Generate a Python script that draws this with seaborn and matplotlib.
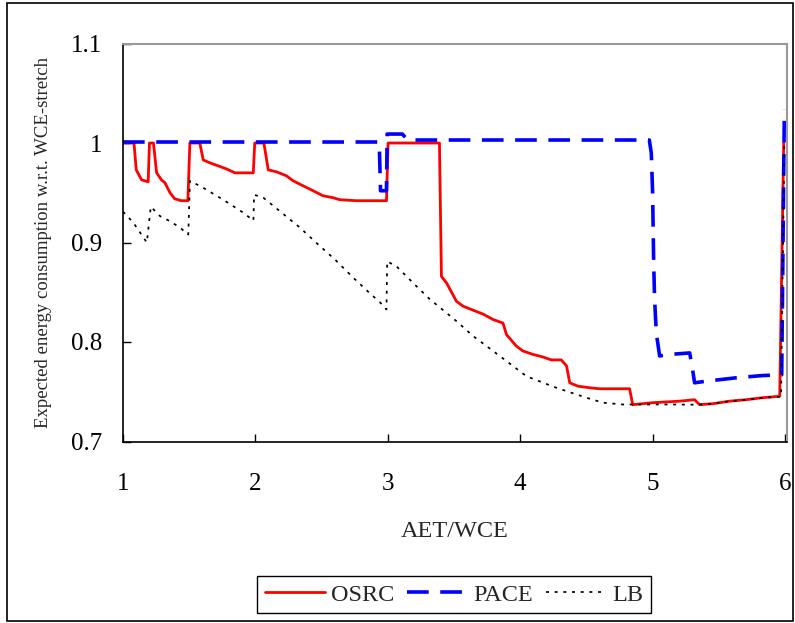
import matplotlib
matplotlib.use("Agg")
import matplotlib.pyplot as plt
import matplotlib.patches as mpatches
import seaborn as sns

# values
osrc_x = [1.0, 1.083, 1.10, 1.14, 1.19, 1.20, 1.23, 1.254, 1.29, 1.317, 1.355, 1.39,
          1.44, 1.49, 1.505, 1.58, 1.606, 1.657, 1.72, 1.78, 1.845, 1.984, 1.995,
          2.064, 2.097, 2.16, 2.235, 2.285, 2.36, 2.436, 2.51, 2.587, 2.638, 2.763,
          2.99, 3.002, 3.39, 3.405, 3.443, 3.518, 3.568, 3.644, 3.72, 3.795, 3.87,
          3.896, 3.97, 4.02, 4.097, 4.17, 4.235, 4.31, 4.35, 4.374, 4.436, 4.525,
          4.6, 4.826, 4.85, 5.0, 5.2, 5.317, 5.355, 5.455, 5.58, 5.706, 5.83, 5.96,
          5.99]
osrc_y = [1.0, 1.0, 0.973, 0.963, 0.961, 1.0, 1.0, 0.970, 0.963, 0.960, 0.950, 0.944,
          0.942, 0.942, 1.0, 1.0, 0.983, 0.980, 0.977, 0.974, 0.970, 0.970, 1.0,
          1.0, 0.973, 0.971, 0.967, 0.962, 0.957, 0.952, 0.947, 0.945, 0.943, 0.942,
          0.942, 1.0, 1.0, 0.866, 0.8595, 0.841, 0.836, 0.832, 0.828, 0.8226, 0.819,
          0.8075, 0.796, 0.791, 0.7875, 0.785, 0.782, 0.782, 0.776, 0.759, 0.7556, 0.754,
          0.753, 0.753, 0.737, 0.739, 0.7405, 0.742, 0.737, 0.738, 0.7405, 0.742, 0.744, 0.7455,
          1.0]

pace_x = [1.0, 2.935, 2.945, 2.99, 2.995, 3.11, 3.15, 4.975, 4.99, 5.0, 5.008, 5.015,
          5.028, 5.053, 5.128, 5.28, 5.30, 5.317, 5.405, 5.63, 5.83, 5.975, 5.995]
pace_y = [1.001, 1.001, 0.952, 0.952, 1.009, 1.009, 1.003, 1.003, 0.99, 0.95, 0.88, 0.843,
          0.809, 0.786, 0.7875, 0.789, 0.774, 0.759, 0.7606, 0.764, 0.7663, 0.767, 1.034]

lb_x = [1.0, 1.078, 1.18, 1.21, 1.28, 1.355, 1.43, 1.493, 1.506, 1.606, 1.757, 1.908,
        1.985, 1.99, 2.06, 2.198, 2.336, 2.474, 2.60, 2.74, 2.864, 2.94, 2.99, 2.995,
        3.066, 3.19, 3.317, 3.443, 3.518, 3.644, 3.845, 4.047, 4.273, 4.50, 4.625,
        4.776, 5.128, 5.33, 5.455, 5.58, 5.706, 5.83, 5.97, 5.995]
lb_y = [0.931, 0.92, 0.90, 0.936, 0.9265, 0.9214, 0.915, 0.908, 0.962, 0.955, 0.943, 0.930,
        0.922, 0.948, 0.945, 0.930, 0.915, 0.898, 0.883, 0.8645, 0.849, 0.840, 0.8327, 0.881,
        0.876, 0.8595, 0.843, 0.8293, 0.821, 0.806, 0.786, 0.7656, 0.754, 0.744, 0.739,
        0.7372, 0.7372, 0.737, 0.738, 0.7405, 0.742, 0.744, 0.745, 1.0]

x_ticks = [1, 2, 3, 4, 5, 6]
y_ticks = [0.7, 0.8, 0.9, 1.0, 1.1]
y_tick_labels = ["0.7", "0.8", "0.9", "1", "1.1"]

sns.set_style("ticks")
plt.rcParams["font.family"] = ["Liberation Serif", "DejaVu Serif"]

fig = plt.figure(figsize=(7.95, 6.23), dpi=100)
ax = fig.add_axes([123 / 795, 1 - 441.5 / 623, 664 / 795, 398 / 623])

sns.lineplot(x=osrc_x, y=osrc_y, ax=ax, color="#ff0000", linewidth=2.0,
             sort=False, estimator=None, label="OSRC")
sns.lineplot(x=pace_x, y=pace_y, ax=ax, color="#0000ff", linewidth=2.6,
             linestyle=(0, (6, 3.2)), sort=False, estimator=None, label="PACE")
sns.lineplot(x=lb_x, y=lb_y, ax=ax, color="black", linewidth=1.25,
             linestyle=(0, (1.7, 3.3)), sort=False, estimator=None, label="LB")

ax.set_xlim(1, 6.015)
ax.set_ylim(0.7, 1.1)
ax.set_xticks(x_ticks)
ax.set_xticklabels([str(t) for t in x_ticks])
ax.set_yticks(y_ticks)
ax.set_yticklabels(y_tick_labels)
ax.tick_params(axis="both", direction="in", length=6, width=1, colors="black",
               labelsize=18)
ax.tick_params(axis="x", pad=23)
ax.tick_params(axis="y", pad=15)

for side in ["left", "bottom"]:
    ax.spines[side].set_color("black")
    ax.spines[side].set_linewidth(1.2)
for side in ["top", "right"]:
    ax.spines[side].set_visible(True)
    ax.spines[side].set_color("#999999")
    ax.spines[side].set_linewidth(1.5)

ax.set_xlabel("AET/WCE", fontsize=17.5)
ax.xaxis.set_label_coords(0.5, -0.2)
ax.set_ylabel("Expected energy consumption w.r.t. WCE-stretch", fontsize=13.5)
ax.yaxis.set_label_coords(-0.107, 0.5)

ax.get_legend().remove()
handles, labels = ax.get_legend_handles_labels()
leg = fig.legend(handles, labels, loc="center", ncol=3,
                 bbox_to_anchor=(454 / 795, 1 - 594.5 / 623), fontsize=17.5,
                 frameon=True, fancybox=False, framealpha=1, edgecolor="black",
                 handlelength=2.5, handletextpad=0.25, columnspacing=0.5,
                 borderpad=0.3, borderaxespad=0)
leg.get_frame().set_linewidth(1.0)

# outer border around the whole figure
fig.patches.append(mpatches.Rectangle((7 / 795, 2 / 623), 786 / 795, 618 / 623,
                                      transform=fig.transFigure, fill=False,
                                      edgecolor="black", linewidth=1.2))

fig.savefig("out.png", dpi=100)
